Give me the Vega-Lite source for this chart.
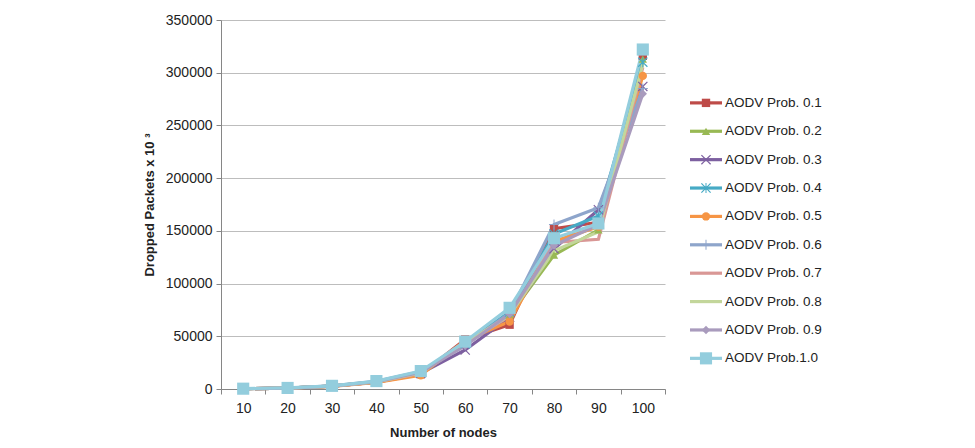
{
  "$schema": "https://vega.github.io/schema/vega-lite/v6.json",
  "padding": {"left": 143, "top": 13, "right": 0, "bottom": 0},
  "background": "white",
  "config": {"view": {"stroke": null}, "font": "Liberation Sans", "concat": {"spacing": 22}},
  "datasets": {
    "d": [
      {"n": 10, "s": "AODV Prob. 0.1", "v": 300}, {"n": 20, "s": "AODV Prob. 0.1", "v": 900}, {"n": 30, "s": "AODV Prob. 0.1", "v": 2600}, {"n": 40, "s": "AODV Prob. 0.1", "v": 6500}, {"n": 50, "s": "AODV Prob. 0.1", "v": 14000}, {"n": 60, "s": "AODV Prob. 0.1", "v": 47000}, {"n": 70, "s": "AODV Prob. 0.1", "v": 61000}, {"n": 80, "s": "AODV Prob. 0.1", "v": 152000}, {"n": 90, "s": "AODV Prob. 0.1", "v": 158000}, {"n": 100, "s": "AODV Prob. 0.1", "v": 316000},
      {"n": 10, "s": "AODV Prob. 0.2", "v": 300}, {"n": 20, "s": "AODV Prob. 0.2", "v": 900}, {"n": 30, "s": "AODV Prob. 0.2", "v": 2800}, {"n": 40, "s": "AODV Prob. 0.2", "v": 6800}, {"n": 50, "s": "AODV Prob. 0.2", "v": 15500}, {"n": 60, "s": "AODV Prob. 0.2", "v": 44000}, {"n": 70, "s": "AODV Prob. 0.2", "v": 70000}, {"n": 80, "s": "AODV Prob. 0.2", "v": 127000}, {"n": 90, "s": "AODV Prob. 0.2", "v": 151000}, {"n": 100, "s": "AODV Prob. 0.2", "v": 313000},
      {"n": 10, "s": "AODV Prob. 0.3", "v": 300}, {"n": 20, "s": "AODV Prob. 0.3", "v": 900}, {"n": 30, "s": "AODV Prob. 0.3", "v": 2700}, {"n": 40, "s": "AODV Prob. 0.3", "v": 6600}, {"n": 50, "s": "AODV Prob. 0.3", "v": 15000}, {"n": 60, "s": "AODV Prob. 0.3", "v": 37000}, {"n": 70, "s": "AODV Prob. 0.3", "v": 68000}, {"n": 80, "s": "AODV Prob. 0.3", "v": 133000}, {"n": 90, "s": "AODV Prob. 0.3", "v": 170000}, {"n": 100, "s": "AODV Prob. 0.3", "v": 287000},
      {"n": 10, "s": "AODV Prob. 0.4", "v": 300}, {"n": 20, "s": "AODV Prob. 0.4", "v": 900}, {"n": 30, "s": "AODV Prob. 0.4", "v": 2800}, {"n": 40, "s": "AODV Prob. 0.4", "v": 7000}, {"n": 50, "s": "AODV Prob. 0.4", "v": 16000}, {"n": 60, "s": "AODV Prob. 0.4", "v": 43000}, {"n": 70, "s": "AODV Prob. 0.4", "v": 73000}, {"n": 80, "s": "AODV Prob. 0.4", "v": 147000}, {"n": 90, "s": "AODV Prob. 0.4", "v": 164000}, {"n": 100, "s": "AODV Prob. 0.4", "v": 310000},
      {"n": 10, "s": "AODV Prob. 0.5", "v": 300}, {"n": 20, "s": "AODV Prob. 0.5", "v": 900}, {"n": 30, "s": "AODV Prob. 0.5", "v": 2500}, {"n": 40, "s": "AODV Prob. 0.5", "v": 6200}, {"n": 50, "s": "AODV Prob. 0.5", "v": 13000}, {"n": 60, "s": "AODV Prob. 0.5", "v": 46000}, {"n": 70, "s": "AODV Prob. 0.5", "v": 64000}, {"n": 80, "s": "AODV Prob. 0.5", "v": 140000}, {"n": 90, "s": "AODV Prob. 0.5", "v": 154000}, {"n": 100, "s": "AODV Prob. 0.5", "v": 297000},
      {"n": 10, "s": "AODV Prob. 0.6", "v": 300}, {"n": 20, "s": "AODV Prob. 0.6", "v": 900}, {"n": 30, "s": "AODV Prob. 0.6", "v": 2900}, {"n": 40, "s": "AODV Prob. 0.6", "v": 7200}, {"n": 50, "s": "AODV Prob. 0.6", "v": 16500}, {"n": 60, "s": "AODV Prob. 0.6", "v": 42000}, {"n": 70, "s": "AODV Prob. 0.6", "v": 72000}, {"n": 80, "s": "AODV Prob. 0.6", "v": 156000}, {"n": 90, "s": "AODV Prob. 0.6", "v": 172000}, {"n": 100, "s": "AODV Prob. 0.6", "v": 285000},
      {"n": 10, "s": "AODV Prob. 0.7", "v": 300}, {"n": 20, "s": "AODV Prob. 0.7", "v": 900}, {"n": 30, "s": "AODV Prob. 0.7", "v": 2700}, {"n": 40, "s": "AODV Prob. 0.7", "v": 6800}, {"n": 50, "s": "AODV Prob. 0.7", "v": 15000}, {"n": 60, "s": "AODV Prob. 0.7", "v": 44000}, {"n": 70, "s": "AODV Prob. 0.7", "v": 69000}, {"n": 80, "s": "AODV Prob. 0.7", "v": 139000}, {"n": 90, "s": "AODV Prob. 0.7", "v": 142000}, {"n": 100, "s": "AODV Prob. 0.7", "v": 305000},
      {"n": 10, "s": "AODV Prob. 0.8", "v": 300}, {"n": 20, "s": "AODV Prob. 0.8", "v": 900}, {"n": 30, "s": "AODV Prob. 0.8", "v": 2700}, {"n": 40, "s": "AODV Prob. 0.8", "v": 6700}, {"n": 50, "s": "AODV Prob. 0.8", "v": 15500}, {"n": 60, "s": "AODV Prob. 0.8", "v": 43000}, {"n": 70, "s": "AODV Prob. 0.8", "v": 70000}, {"n": 80, "s": "AODV Prob. 0.8", "v": 131000}, {"n": 90, "s": "AODV Prob. 0.8", "v": 149000}, {"n": 100, "s": "AODV Prob. 0.8", "v": 308000},
      {"n": 10, "s": "AODV Prob. 0.9", "v": 300}, {"n": 20, "s": "AODV Prob. 0.9", "v": 900}, {"n": 30, "s": "AODV Prob. 0.9", "v": 2800}, {"n": 40, "s": "AODV Prob. 0.9", "v": 6900}, {"n": 50, "s": "AODV Prob. 0.9", "v": 16000}, {"n": 60, "s": "AODV Prob. 0.9", "v": 41000}, {"n": 70, "s": "AODV Prob. 0.9", "v": 71000}, {"n": 80, "s": "AODV Prob. 0.9", "v": 136000}, {"n": 90, "s": "AODV Prob. 0.9", "v": 156000}, {"n": 100, "s": "AODV Prob. 0.9", "v": 280000},
      {"n": 10, "s": "AODV Prob.1.0", "v": 300}, {"n": 20, "s": "AODV Prob.1.0", "v": 1000}, {"n": 30, "s": "AODV Prob.1.0", "v": 3000}, {"n": 40, "s": "AODV Prob.1.0", "v": 7500}, {"n": 50, "s": "AODV Prob.1.0", "v": 17000}, {"n": 60, "s": "AODV Prob.1.0", "v": 45000}, {"n": 70, "s": "AODV Prob.1.0", "v": 77000}, {"n": 80, "s": "AODV Prob.1.0", "v": 143000}, {"n": 90, "s": "AODV Prob.1.0", "v": 157000}, {"n": 100, "s": "AODV Prob.1.0", "v": 322000}
    ]
  },
  "data": {"name": "d"},
  "hconcat": [
    {
      "width": 444,
      "height": 369,
      "encoding": {
        "x": {
          "field": "n", "type": "ordinal", "bandPosition": 0.5,
          "scale": {"type": "band", "paddingInner": 0, "paddingOuter": 0},
          "axis": {"title": "Number of nodes", "titleFontWeight": "bold", "titleFontSize": 13, "titleColor": "#222", "labelFontSize": 14, "labelColor": "#222", "labelAngle": 0, "tickBand": "extent", "domainColor": "#868686", "tickColor": "#868686", "tickSize": 5, "grid": false, "labelPadding": 7, "titlePadding": 11}
        },
        "y": {
          "field": "v", "type": "quantitative",
          "scale": {"domain": [0, 350000]},
          "axis": {"title": "Dropped Packets x 10 ³", "values": [0, 50000, 100000, 150000, 200000, 250000, 300000, 350000], "format": "d", "grid": true, "gridColor": "#BDBDBD", "domainColor": "#868686", "tickColor": "#868686", "tickSize": 5, "labelFontSize": 14, "labelColor": "#222", "labelPadding": 4, "titlePadding": 9, "titleFontSize": 13, "titleFontWeight": "bold", "titleColor": "#222"}
        },
        "color": {
          "field": "s", "type": "nominal",
          "scale": {"domain": ["AODV Prob. 0.1", "AODV Prob. 0.2", "AODV Prob. 0.3", "AODV Prob. 0.4", "AODV Prob. 0.5", "AODV Prob. 0.6", "AODV Prob. 0.7", "AODV Prob. 0.8", "AODV Prob. 0.9", "AODV Prob.1.0"], "range": ["#BE4B48", "#98B954", "#7D60A0", "#46AAC5", "#F69545", "#8EA5CB", "#D99795", "#C3D69B", "#A99BBD", "#93CDDD"]},
          "legend": null
        }
      },
      "layer": [
        {"mark": {"type": "line", "strokeWidth": 3.2}},
        {
          "mark": {"type": "point", "filled": true, "opacity": 1, "size": 70},
          "encoding": {
            "shape": {"field": "s", "type": "nominal", "legend": null, "scale": {"domain": ["AODV Prob. 0.1", "AODV Prob. 0.2", "AODV Prob. 0.3", "AODV Prob. 0.4", "AODV Prob. 0.5", "AODV Prob. 0.6", "AODV Prob. 0.7", "AODV Prob. 0.8", "AODV Prob. 0.9", "AODV Prob.1.0"], "range": ["square", "triangle-up", "M-1.2,-1L-1,-1.2L0,-0.2L1,-1.2L1.2,-1L0.2,0L1.2,1L1,1.2L0,0.2L-1,1.2L-1.2,1L-0.2,0Z", "M-1.2,-1L-1,-1.2L0,-0.2L1,-1.2L1.2,-1L0.2,0L1.2,1L1,1.2L0,0.2L-1,1.2L-1.2,1L-0.2,0Z M-0.12,-1.2H0.12V1.2H-0.12Z", "circle", "M-0.12,-1.2H0.12V-0.12H1.2V0.12H0.12V1.2H-0.12V0.12H-1.2V-0.12H-0.12Z", "M0,0L0,0Z", "M0,0L0,0Z", "diamond", "M-1.45,-1.45H1.45V1.45H-1.45Z"]}}
          }
        }
      ]
    },
    {
      "width": 200,
      "height": 369,
      "transform": [{"filter": "datum.n == 10"}],
      "encoding": {
        "y": {"field": "s", "type": "nominal", "scale": {"type": "point", "domain": [" ", "  ", "AODV Prob. 0.1", "AODV Prob. 0.2", "AODV Prob. 0.3", "AODV Prob. 0.4", "AODV Prob. 0.5", "AODV Prob. 0.6", "AODV Prob. 0.7", "AODV Prob. 0.8", "AODV Prob. 0.9", "AODV Prob.1.0"], "padding": 1, "align": 0.46}, "axis": null}
      },
      "layer": [
        {
          "mark": {"type": "rule", "strokeWidth": 3.2},
          "encoding": {
            "x": {"datum": 0, "type": "quantitative", "scale": {"domain": [0, 200]}, "axis": null},
            "x2": {"datum": 32},
            "color": {"field": "s", "type": "nominal", "legend": null, "scale": {"domain": ["AODV Prob. 0.1", "AODV Prob. 0.2", "AODV Prob. 0.3", "AODV Prob. 0.4", "AODV Prob. 0.5", "AODV Prob. 0.6", "AODV Prob. 0.7", "AODV Prob. 0.8", "AODV Prob. 0.9", "AODV Prob.1.0"], "range": ["#BE4B48", "#98B954", "#7D60A0", "#46AAC5", "#F69545", "#8EA5CB", "#D99795", "#C3D69B", "#A99BBD", "#93CDDD"]}}
          }
        },
        {
          "mark": {"type": "point", "filled": true, "opacity": 1, "size": 70},
          "encoding": {
            "x": {"datum": 16, "type": "quantitative"},
            "color": {"field": "s", "type": "nominal", "legend": null},
            "shape": {"field": "s", "type": "nominal", "legend": null, "scale": {"domain": ["AODV Prob. 0.1", "AODV Prob. 0.2", "AODV Prob. 0.3", "AODV Prob. 0.4", "AODV Prob. 0.5", "AODV Prob. 0.6", "AODV Prob. 0.7", "AODV Prob. 0.8", "AODV Prob. 0.9", "AODV Prob.1.0"], "range": ["square", "triangle-up", "M-1.2,-1L-1,-1.2L0,-0.2L1,-1.2L1.2,-1L0.2,0L1.2,1L1,1.2L0,0.2L-1,1.2L-1.2,1L-0.2,0Z", "M-1.2,-1L-1,-1.2L0,-0.2L1,-1.2L1.2,-1L0.2,0L1.2,1L1,1.2L0,0.2L-1,1.2L-1.2,1L-0.2,0Z M-0.12,-1.2H0.12V1.2H-0.12Z", "circle", "M-0.12,-1.2H0.12V-0.12H1.2V0.12H0.12V1.2H-0.12V0.12H-1.2V-0.12H-0.12Z", "M0,0L0,0Z", "M0,0L0,0Z", "diamond", "M-1.1,-1.1H1.1V1.1H-1.1Z"]}}
          }
        },
        {
          "mark": {"type": "text", "align": "left", "baseline": "middle", "fontSize": 13.5, "color": "#222"},
          "encoding": {
            "x": {"datum": 35, "type": "quantitative"},
            "text": {"field": "s"}
          }
        }
      ]
    }
  ]
}
